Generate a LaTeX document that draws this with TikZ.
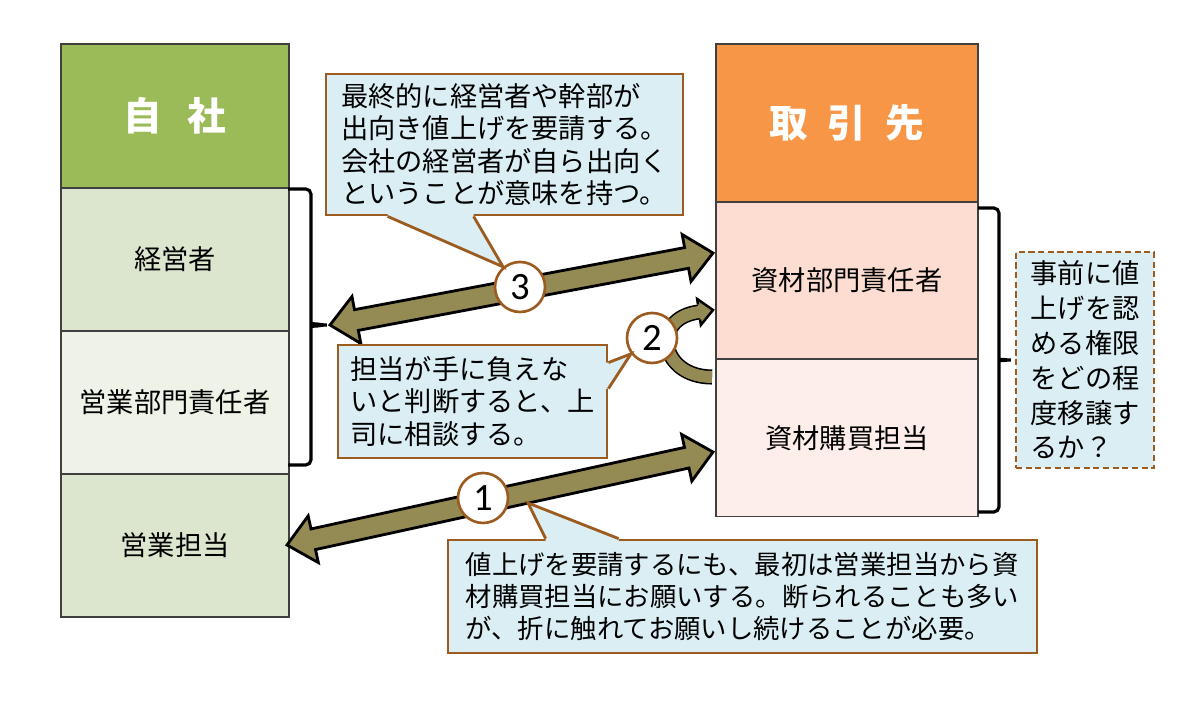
\documentclass[tikz,border=0pt]{standalone}
\usepackage{fontspec}
\setmainfont{Noto Sans CJK JP}
\newfontfamily\numfont{Carlito}
\usetikzlibrary{calc}

\definecolor{hdgreen}{HTML}{9BBB59}
\definecolor{rowgreen}{HTML}{DCE6CE}
\definecolor{rowgreenlt}{HTML}{EEF2E7}
\definecolor{hdorange}{HTML}{F79646}
\definecolor{roworange}{HTML}{FDDDD1}
\definecolor{roworangelt}{HTML}{FDEEE9}
\definecolor{notefill}{HTML}{DBEEF4}
\definecolor{notebrown}{HTML}{9C5B1F}
\definecolor{arrowolive}{HTML}{948A54}

\begin{document}
\begin{tikzpicture}[x=0.02cm,y=-0.02cm]

\def \px {0.02cm}
\def \headlen {15.3pt}
\def \headwid {13.6pt}
\def \shaftwid {6pt}

\tikzstyle{cell}=[draw=black!75,line width=0.6pt,inner sep=0pt,font=\fontsize{15.5}{18.5}\selectfont]
\tikzstyle{head}=[cell,text=white,font=\fontsize{22}{26}\selectfont\bfseries]
\tikzstyle{note}=[draw=notebrown,line width=1.6pt,fill=notefill,align=left,inner sep=0pt,font=\fontsize{15.5}{18.3}\selectfont]
\tikzstyle{num}=[circle,draw=notebrown,line width=1.5pt,fill=white,minimum size=50*\px,inner sep=0pt,font=\numfont\fontsize{22}{22}\selectfont]
\tikzstyle{bigarrow}=[draw=black,line width=1.6pt,fill=arrowolive,line join=miter]
\tikzstyle{brace}=[draw,line width=1.8pt,rounded corners=3pt]

\useasboundingbox (0,0) rectangle (1200,712);

\node[head,fill=hdgreen,minimum width=228*\px,minimum height=144*\px] (L0) at (175,116) {自\hspace{0.65em}社};
\foreach \name/\lab/\col [count=\i] in {L1/経営者/rowgreen, L2/営業部門責任者/rowgreenlt, L3/営業担当/rowgreen}
{
  \node[cell,fill=\col,minimum width=228*\px,minimum height=143*\px] (\name) at (175,{116.5+143*\i}) {\lab};
}

\node[head,fill=hdorange,minimum width=262*\px,minimum height=158*\px] (R0) at (847,123) {取\hspace{0.5em}引\hspace{0.5em}先};
\foreach \name/\lab/\col [count=\i] in {R1/資材部門責任者/roworange, R2/資材購買担当/roworangelt}
{
  \node[cell,fill=\col,minimum width=262*\px,minimum height=157*\px] (\name) at (847,{123+157.5*\i}) {\lab};
}

\draw[brace] (288,189) -| (311,320) to[out=-90,in=180] (330,325) to[out=180,in=90] (311,330) |- (288,465);
\draw[brace] (978,208) -| (999,355) to[out=-90,in=180] (1014,360) to[out=180,in=90] (999,365) |- (978,512);

\coordinate (a3l) at (330,325);
\coordinate (a3r) at (713,253);
\coordinate (a1l) at (287,545);
\coordinate (a1r) at (713,452);

\foreach \from/\to in {a3l/a3r, a1l/a1r}
{
  \coordinate (h1) at ($(\from)!\headlen!(\to)$);
  \coordinate (h2) at ($(\to)!\headlen!(\from)$);
  \path[bigarrow] (\from) -- ($(h1)!\headwid!90:(\to)$) -- ($(h1)!\shaftwid!90:(\to)$)
    -- ($(h2)!\shaftwid!-90:(\from)$) -- ($(h2)!\headwid!-90:(\from)$) -- (\to)
    -- ($(h2)!\headwid!90:(\from)$) -- ($(h2)!\shaftwid!90:(\from)$)
    -- ($(h1)!\shaftwid!-90:(\to)$) -- ($(h1)!\headwid!-90:(\to)$) -- cycle;
}

\coordinate (a2s) at (712,377);
\coordinate (a2b) at (699,312);
\coordinate (a2t) at (713,310);
\draw[line width=8.6pt,black] (a2s) .. controls (660,377) and (650,318) .. (a2b);
\draw[line width=6.8pt,arrowolive] (a2s) .. controls (660,377) and (650,318) .. (a2b);
\fill[arrowolive] ($(a2b)!4.3pt!90:(a2t)$) -- ($(a2b)!7.5pt!90:(a2t)$) -- (a2t) -- ($(a2b)!7.5pt!-90:(a2t)$) -- ($(a2b)!4.3pt!-90:(a2t)$) -- cycle;
\draw[line width=1.4pt,line join=miter] ($(a2b)!4.3pt!90:(a2t)$) -- ($(a2b)!7.5pt!90:(a2t)$) -- (a2t) -- ($(a2b)!7.5pt!-90:(a2t)$) -- ($(a2b)!4.3pt!-90:(a2t)$);

\node[num] (n3) at (520,287) {3};
\node[num] (n2) at (652,338) {2};
\node[num] (n1) at (483,498) {1};

\node[note,minimum width=357*\px,minimum height=141*\px] (c3) at (504.5,144.5) {最終的に経営者や幹部が\\出向き値上げを要請する。\\会社の経営者が自ら出向く\\ということが意味を持つ。};
\node[note,minimum width=269*\px,minimum height=113*\px] (c2) at (472.5,401.5) {担当が手に負えな\\いと判断すると、上\\司に相談する。};
\node[note,minimum width=589*\px,minimum height=113*\px,font=\fontsize{15}{18.4}\selectfont] (c1) at (742.5,596.5) {値上げを要請するにも、最初は営業担当から資\\材購買担当にお願いする。断られることも多い\\が、折に触れてお願いし続けることが必要。};
\node[note,dash pattern=on 3.5pt off 2pt,minimum width=138*\px,minimum height=216*\px,font=\fontsize{15.5}{19.8}\selectfont] (q) at (1085,360) {事前に値\\上げを認\\める権限\\をどの程\\度移譲す\\るか？};

\coordinate (c3a) at ($(c3.south west)+(63,0)$);
\coordinate (c3b) at ($(c3.south west)+(149,0)$);
\coordinate (c2a) at ($(c2.north east)+(0,19)$);
\coordinate (c2b) at ($(c2.north east)+(0,45)$);
\coordinate (c1a) at ($(c1.north west)+(99,0)$);
\coordinate (c1b) at ($(c1.north west)+(172,0)$);
\coordinate (c1t) at (528,503);

\foreach \a/\t/\b/\dx/\dy in {c3a/n3.130/c3b/0/-3, c2a/n2.217/c2b/-3/0, c1a/c1t/c1b/0/3}
{
  \fill[notefill] ($(\a)+(\dx,\dy)$) -- (\a) -- (\t) -- (\b) -- ($(\b)+(\dx,\dy)$) -- cycle;
  \draw[notebrown,line width=1.6pt] (\a) -- (\t) -- (\b);
}
\end{tikzpicture}
\end{document}
